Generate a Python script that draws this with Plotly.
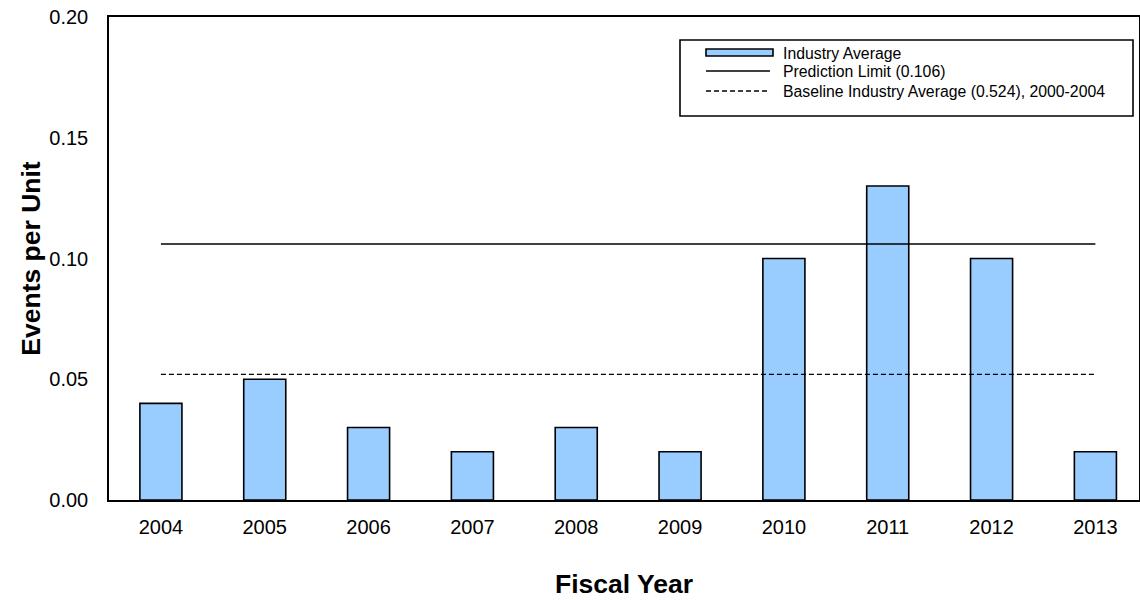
import plotly.graph_objects as go

# ---- data ----
years = ["2004", "2005", "2006", "2007", "2008", "2009", "2010", "2011", "2012", "2013"]
industry_avg = [0.04, 0.05, 0.03, 0.02, 0.03, 0.02, 0.10, 0.13, 0.10, 0.02]
prediction_limit = 0.106
baseline_avg = 0.052
y_ticks = [0.00, 0.05, 0.10, 0.15, 0.20]
y_tick_labels = ["0.00", "0.05", "0.10", "0.15", "0.20"]
legend_labels = ["Industry Average", "Prediction Limit (0.106)",
                 "Baseline Industry Average (0.524), 2000-2004"]

# ---- layout geometry (page body margin removed via post_script) ----
W, H = 1140, 600
ML, MR, MT, MB = 109, 1, 17, 100
PW, PH = W - ML - MR, H - MT - MB
FONT = "Arial, Liberation Sans, sans-serif"


def px(x):
    return (x - ML) / PW


def py(y):
    return (MT + PH - y) / PH


fig = go.Figure()
fig.add_trace(go.Bar(
    x=years, y=industry_avg, name=legend_labels[0], width=0.405,
    marker=dict(color="#99CCFF", line=dict(color="black", width=1.6)),
    showlegend=False,
))
fig.add_trace(go.Scatter(
    x=[years[0], years[-1]], y=[prediction_limit, prediction_limit],
    mode="lines", name=legend_labels[1],
    line=dict(color="black", width=1.3), showlegend=False,
))
fig.add_trace(go.Scatter(
    x=[years[0], years[-1]], y=[baseline_avg, baseline_avg],
    mode="lines", name=legend_labels[2],
    line=dict(color="black", width=1.3, dash="5px,3px"), showlegend=False,
))

# ---- custom legend ----
shapes = [
    dict(type="rect", xref="paper", yref="paper",
         x0=px(680), x1=px(1133), y0=py(116), y1=py(40),
         line=dict(color="black", width=1.6), fillcolor="white", layer="above"),
    dict(type="rect", xref="paper", yref="paper",
         x0=px(706), x1=px(773), y0=py(56), y1=py(49),
         line=dict(color="black", width=1.6), fillcolor="#99CCFF", layer="above"),
    dict(type="line", xref="paper", yref="paper",
         x0=px(706), x1=px(770), y0=py(71), y1=py(71),
         line=dict(color="black", width=1.3), layer="above"),
    dict(type="line", xref="paper", yref="paper",
         x0=px(706), x1=px(770), y0=py(91), y1=py(91),
         line=dict(color="black", width=1.3, dash="5px,3px"), layer="above"),
]
annotations = []
for label, yy in zip(legend_labels, [53, 71, 91]):
    annotations.append(dict(
        xref="paper", yref="paper", x=px(781), y=py(yy),
        xanchor="left", yanchor="middle", showarrow=False,
        text=label, font=dict(family=FONT, size=15.8, color="black"),
    ))

fig.update_layout(
    width=W, height=H,
    margin=dict(l=ML, r=MR, t=MT, b=MB, autoexpand=False),
    plot_bgcolor="white", paper_bgcolor="white",
    font=dict(family=FONT, color="black"),
    shapes=shapes, annotations=annotations,
)
fig.update_xaxes(
    type="category", range=[-0.5, 9.42],
    showline=True, linecolor="black", linewidth=1.5, mirror=True,
    showgrid=False, ticks="", tickfont=dict(size=20, family=FONT),
    ticklabelstandoff=8,
    title=dict(text="<b>Fiscal Year</b>", font=dict(size=26.5, family=FONT), standoff=38),
)
fig.update_yaxes(
    range=[0, 0.2], tickvals=y_ticks, ticktext=y_tick_labels,
    showline=True, linecolor="black", linewidth=1.5, mirror=True,
    showgrid=False, zeroline=False, ticks="", tickfont=dict(size=20, family=FONT),
    ticklabelstandoff=15, ticklabeloverflow="allow",
    title=dict(text="<b>Events per Unit</b>", font=dict(size=26.5, family=FONT), standoff=1),
)

fig.write_html(
    "out.html",
    config={"displayModeBar": False},
    post_script="document.body.style.margin='0';document.body.style.padding='0';",
)
